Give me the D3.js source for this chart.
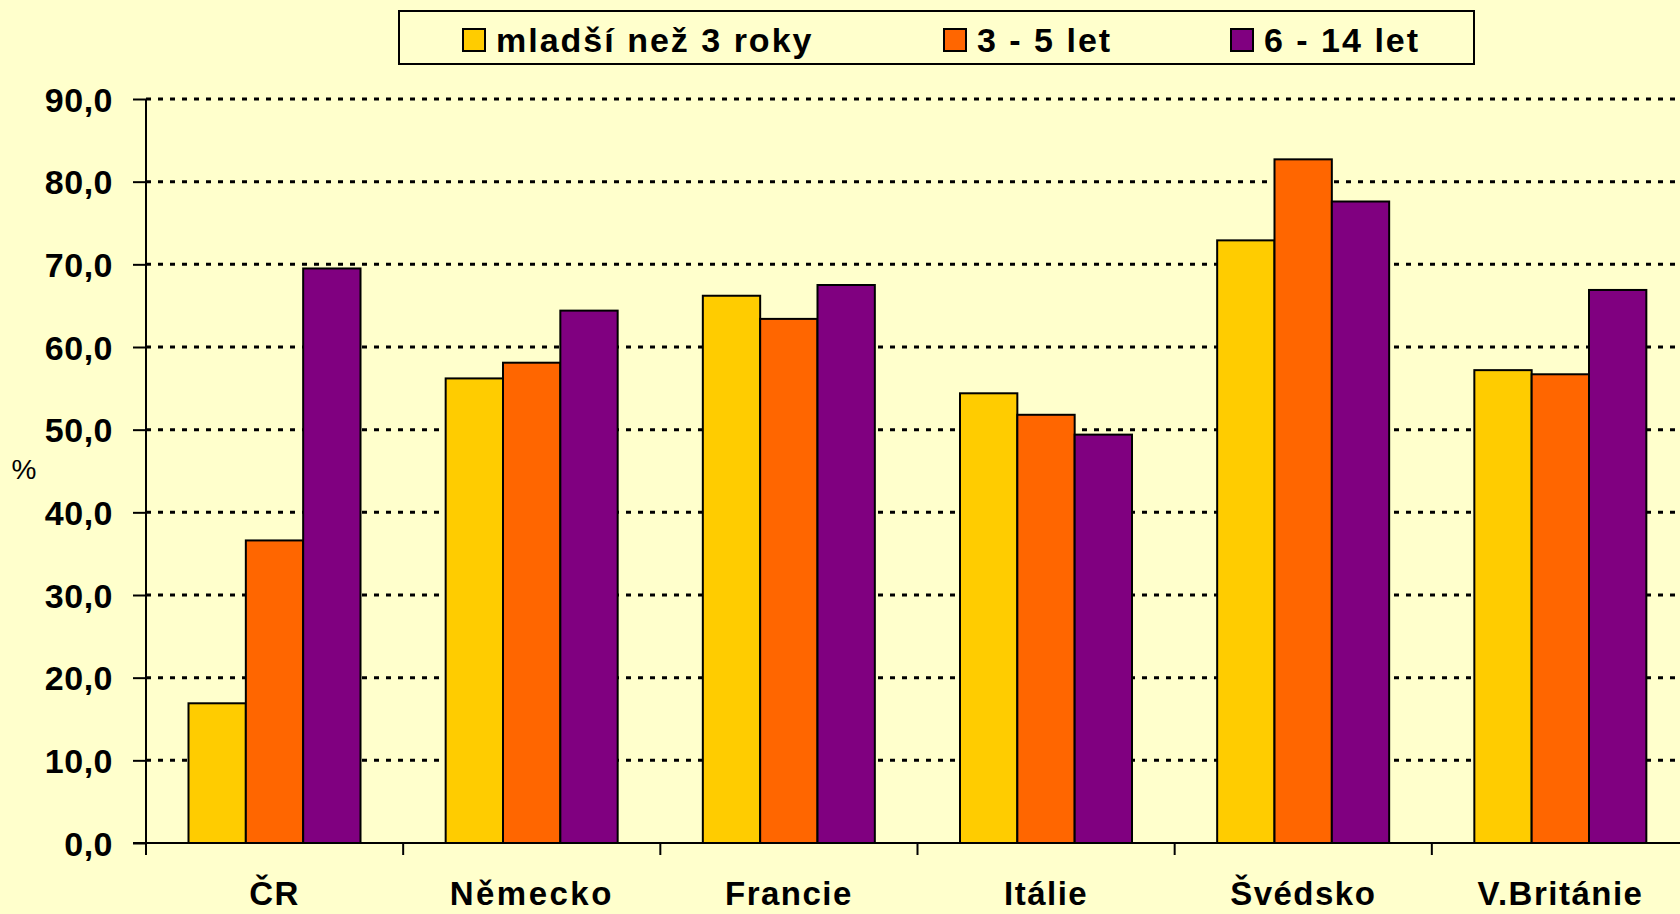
<!DOCTYPE html>
<html>
<head>
<meta charset="utf-8">
<script src="https://cdn.jsdelivr.net/npm/d3@7"></script>
<style>
    html, body { margin: 0; padding: 0; background: #FFFFCC; overflow: hidden; }
    text { font-family: "Liberation Sans", Arial, sans-serif; fill: #000; }
</style>
</head>
<body>
<svg id="chart" width="1680" height="914"></svg>
<script>
// data
let categories = ['ČR', 'Německo', 'Francie', 'Itálie', 'Švédsko', 'V.Británie'];
let series_names = ['mladší než 3 roky', '3 - 5 let', '6 - 14 let'];
let series_colors = ['#FFCC00', '#FF6600', '#800080'];
let values_under_3 = [16.9, 56.2, 66.2, 54.4, 72.9, 57.2];
let values_3_5 = [36.6, 58.1, 63.4, 51.8, 82.7, 56.7];
let values_6_14 = [69.5, 64.4, 67.5, 49.4, 77.6, 66.9];
let y_ticks = [0, 10, 20, 30, 40, 50, 60, 70, 80, 90];

let all_values = [values_under_3, values_3_5, values_6_14];

let svg = d3.select('#chart');

let plot = {left: 146, right: 1689, top: 99, bottom: 843};

let x0 = d3.scaleBand()
    .domain(categories)
    .range([plot.left, plot.right]);

let x1 = d3.scaleBand()
    .domain(series_names)
    .range([42.5, 214.5]);

let y = d3.scaleLinear()
    .domain([0, 90])
    .range([plot.bottom, plot.top]);

svg.append('rect').attr('width', 1680).attr('height', 914).attr('fill', '#FFFFCC');

// gridlines
svg.append('g').selectAll('line')
    .data(y_ticks.filter(d => d > 0))
    .join('line')
    .attr('x1', plot.left)
    .attr('x2', 1680)
    .attr('y1', d => y(d))
    .attr('y2', d => y(d))
    .attr('stroke', '#000')
    .attr('stroke-width', 3)
    .attr('stroke-dasharray', '5,7');

// bars
categories.forEach(function (cat, ci) {
    let g = svg.append('g').attr('transform', 'translate(' + x0(cat) + ',0)');
    series_names.forEach(function (s, si) {
        let v = all_values[si][ci];
        g.append('rect')
            .attr('x', x1(s))
            .attr('y', y(v))
            .attr('width', x1.bandwidth())
            .attr('height', y(0) - y(v))
            .attr('fill', series_colors[si])
            .attr('stroke', '#000')
            .attr('stroke-width', 2);
    });
});

// y axis
let y_axis = svg.append('g')
    .attr('transform', 'translate(' + plot.left + ',0)')
    .call(d3.axisLeft(y).tickValues(y_ticks).tickSize(13).tickFormat(d => d3.format('.1f')(d).replace('.', ',')));
y_axis.select('.domain').remove();
y_axis.selectAll('.tick line').attr('stroke', '#000').attr('stroke-width', 2);
y_axis.selectAll('.tick text')
    .attr('x', -33)
    .attr('dy', '0.36em')
    .style('font-size', '34px')
    .style('font-weight', 'bold')
    .style('letter-spacing', '0.5px')
    .style('font-family', '"Liberation Sans", Arial, sans-serif');

svg.append('line')
    .attr('x1', plot.left).attr('x2', plot.left)
    .attr('y1', plot.top).attr('y2', plot.bottom + 12)
    .attr('stroke', '#000').attr('stroke-width', 2);

// x axis
svg.append('line')
    .attr('x1', plot.left - 13).attr('x2', 1680)
    .attr('y1', plot.bottom).attr('y2', plot.bottom)
    .attr('stroke', '#000').attr('stroke-width', 2);

svg.append('g').selectAll('line')
    .data(categories)
    .join('line')
    .attr('x1', d => x0(d))
    .attr('x2', d => x0(d))
    .attr('y1', plot.bottom)
    .attr('y2', plot.bottom + 12)
    .attr('stroke', '#000')
    .attr('stroke-width', 2);

svg.append('g').selectAll('text')
    .data(categories)
    .join('text')
    .attr('x', d => x0(d) + x0.bandwidth() / 2)
    .attr('y', 905)
    .attr('text-anchor', 'middle')
    .style('font-size', '33px')
    .style('font-weight', 'bold')
    .style('letter-spacing', d => d === 'Německo' ? '2.5px' : '1.5px')
    .text(d => d);

// y axis title
svg.append('text')
    .attr('x', 24)
    .attr('y', 479)
    .attr('text-anchor', 'middle')
    .style('font-size', '28px')
    .text('%');

// legend
svg.append('rect')
    .attr('x', 399).attr('y', 11)
    .attr('width', 1075).attr('height', 53)
    .attr('fill', '#FFFFCC')
    .attr('stroke', '#000')
    .attr('stroke-width', 2);

let legend_x = [463, 944, 1231];
series_names.forEach(function (s, i) {
    svg.append('rect')
        .attr('x', legend_x[i]).attr('y', 29)
        .attr('width', 22).attr('height', 22)
        .attr('fill', series_colors[i])
        .attr('stroke', '#000')
        .attr('stroke-width', 2);
    svg.append('text')
        .attr('x', legend_x[i] + 33)
        .attr('y', 52)
        .style('font-size', '34px')
        .style('font-weight', 'bold')
        .style('letter-spacing', '2px')
        .text(s);
});
</script>
</body>
</html>
